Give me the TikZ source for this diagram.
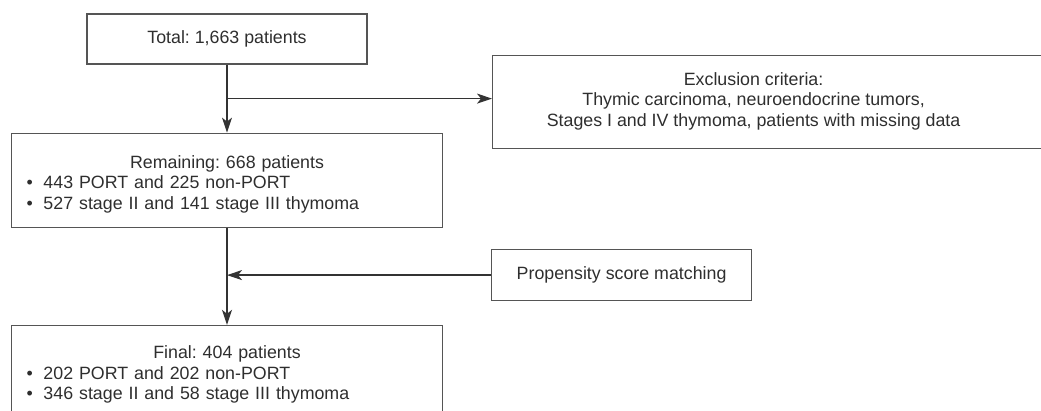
\documentclass[tikz,border=0pt]{standalone}
\usepackage{fontspec}
\setmainfont{Liberation Sans}
\usetikzlibrary{arrows.meta, positioning, calc}

\definecolor{linegray}{HTML}{333333}
\definecolor{boxgray}{HTML}{555555}
\definecolor{textgray}{HTML}{2E2E2E}

\newcommand{\bulletitem}{\makebox[17pt][l]{\textbullet}}

\begin{document}
\frenchspacing
\begin{tikzpicture}[
        x=1pt, y=-1pt,
        font=\fontsize{17.8}{20.6}\selectfont, text=textgray,
        box/.style={rectangle, draw=boxgray, line width=1.2pt, align=center, inner sep=0pt},
        listbox/.style={box, minimum width=431pt, minimum height=94pt, text width=401pt, align=left, inner xsep=15pt},
        arrow/.style={-{Stealth[length=15pt, width=10pt, inset=4pt]}, line width=1.2pt, draw=linegray}
    ]
        \useasboundingbox (0,0) rectangle (1041,411);
        \clip (0,0) rectangle (1041,411);

        % 1. Main column
        \node (total) [box, minimum width=280pt, minimum height=50pt] at (227,39) {Total: 1,663 patients};
        \node (remain) [listbox, below=68pt of total] {%
            {\centering\rule{0pt}{21pt}Remaining: 668 patients\par}
            \bulletitem 443 PORT and 225 non-PORT\\
            \bulletitem 527 stage II and 141 stage III thymoma};
        \node (final) [listbox, below=97pt of remain] {%
            {\centering\rule{0pt}{17pt}Final: 404 patients\par}
            \bulletitem 202 PORT and 202 non-PORT\\
            \bulletitem 346 stage II and 58 stage III thymoma};

        % 2. Side boxes
        \node (excl) [box, anchor=north west, minimum width=570pt, minimum height=93pt] at (492,55) {};
        \node (excltext) [align=center] at ([xshift=-24pt, yshift=1pt]excl.center) {Exclusion criteria:\\ Thymic carcinoma, neuroendocrine tumors,\\ Stages I and IV thymoma, patients with missing data};
        \node (prop) [box, anchor=north west, minimum width=260pt, minimum height=51pt] at (491,249) {Propensity score matching};

        % Connections
        \coordinate (split) at ($(total.south)!0.5!(remain.north)$);
        \draw [arrow] (total) -- (remain);
        \draw [arrow] (split) -- (split -| excl.west);
        \draw [arrow] (remain) -- (final);
        \draw [arrow] (prop.west) -- (prop.west -| remain.south);
    \end{tikzpicture}
\end{document}
